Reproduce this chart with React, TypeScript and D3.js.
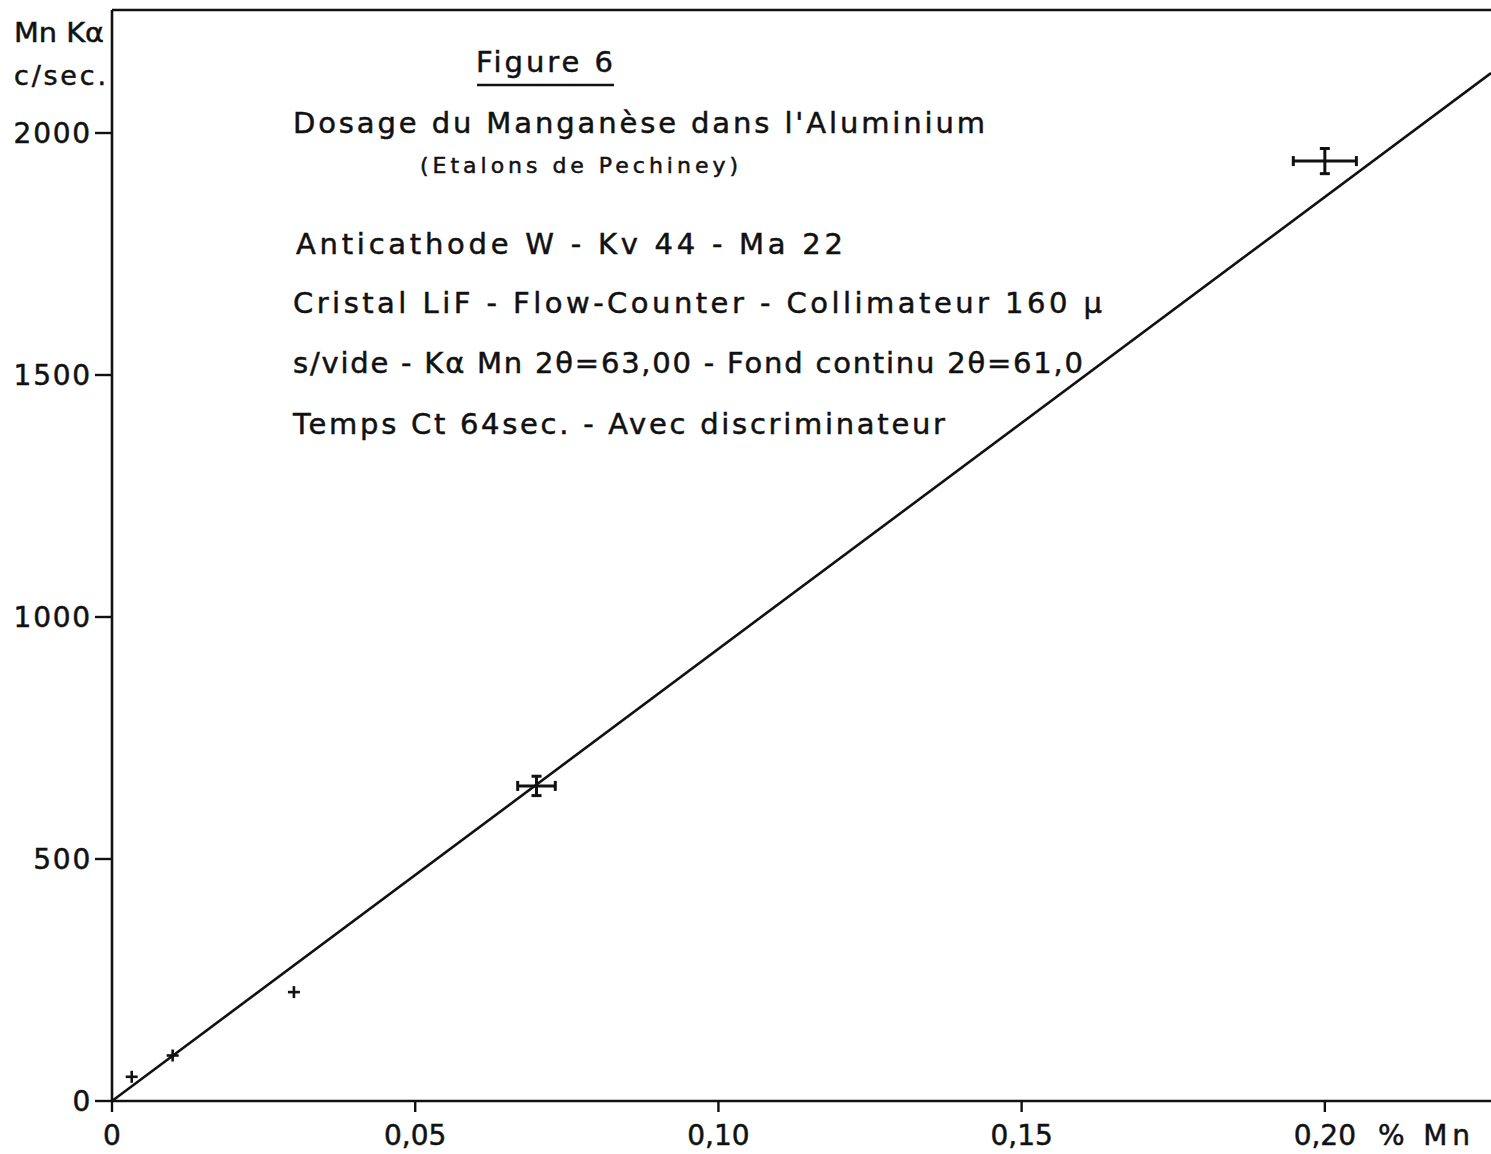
import React from "react";
import * as d3 from "d3";

// Calibration standards: Mn content (%) vs Mn Kα count rate (c/sec)
const mnPercent = [0.00325, 0.01, 0.03, 0.07, 0.2];
const countRate = [50, 94, 225, 651, 1942];
const errX = [0, 0, 0, 0.0031, 0.0052];
const errY = [0, 0, 0, 20, 26];

// Calibration line through the origin (c/sec per % Mn)
const fitSlope = 9340;

const xTicks = [0, 0.05, 0.1, 0.15, 0.2];
const xTickLabels = ["0", "0,05", "0,10", "0,15", "0,20"];
const yTicks = [0, 500, 1000, 1500, 2000];
const yTickLabels = ["0", "500", "1000", "1500", "2000"];

const W = 1491;
const H = 1154;
const FONT = "'DejaVu Sans', 'Liberation Sans', sans-serif";
const INK = "#111";

const x = d3.scaleLinear().domain([0, 0.2274]).range([112, 1491]);
const y = d3.scaleLinear().domain([0, 2000]).range([1101, 133]);

const infoLines = [
  { text: "Anticathode W -  Kv 44  -  Ma 22", x: 296, y: 254, w: 547 },
  { text: "Cristal LiF  -  Flow-Counter  -  Collimateur  160 µ", x: 293, y: 313, w: 809 },
  { text: "s/vide -  Kα Mn 2θ=63,00  - Fond  continu  2θ=61,0", x: 293, y: 373, w: 790 },
  { text: "Temps Ct 64sec.  -  Avec  discriminateur", x: 293, y: 434, w: 652 },
];

const textStyle = { fill: INK, stroke: INK, strokeWidth: 0.5 };

export default function App() {
  const line = d3
    .line<number>()
    .x((d) => x(d))
    .y((d) => y(fitSlope * d));
  const lineDomain = [0, x.domain()[1]];

  return (
    <svg
      width={W}
      height={H}
      style={{ position: "absolute", left: 0, top: 0, background: "#fff" }}
      fontFamily={FONT}
    >
      <rect x={0} y={0} width={W} height={H} fill="#ffffff" />

      {/* frame: left axis, bottom axis, top border */}
      <g stroke={INK} strokeWidth={2.6} fill="none">
        <line x1={x(0)} y1={10} x2={x(0)} y2={y(0) + 1} />
        <line x1={x(0)} y1={y(0)} x2={W} y2={y(0)} />
        <line x1={x(0)} y1={10} x2={W} y2={10} />
      </g>

      {/* y ticks */}
      {yTicks.map((t, i) => (
        <g key={"yt" + i}>
          <line x1={95} x2={x(0)} y1={y(t)} y2={y(t)} stroke={INK} strokeWidth={2.4} />
          <text
            x={92}
            y={y(t) + 10}
            textAnchor="end"
            fontSize={28}
            letterSpacing={1.8}
            {...textStyle}
          >
            {yTickLabels[i]}
          </text>
        </g>
      ))}

      {/* x ticks */}
      {xTicks.map((t, i) => (
        <g key={"xt" + i}>
          <line x1={x(t)} x2={x(t)} y1={y(0)} y2={y(0) + 11} stroke={INK} strokeWidth={2.4} />
          <text x={x(t)} y={1145} textAnchor="middle" fontSize={28} {...textStyle}>
            {xTickLabels[i]}
          </text>
        </g>
      ))}
      <text x={1378} y={1145} fontSize={28} textLength={92} lengthAdjust="spacing" {...textStyle}>
        % Mn
      </text>

      {/* y axis title */}
      <text x={14} y={42} fontSize={27} textLength={90} lengthAdjust="spacingAndGlyphs" {...textStyle}>
        Mn Kα
      </text>
      <text x={14} y={85} fontSize={27} textLength={92} lengthAdjust="spacing" {...textStyle}>
        c/sec.
      </text>

      {/* titles */}
      <text x={476} y={72} fontSize={29} textLength={137} lengthAdjust="spacing" {...textStyle}>
        Figure 6
      </text>
      <line x1={477} x2={614} y1={85} y2={85} stroke={INK} strokeWidth={2.4} />
      <text x={293} y={133} fontSize={29} textLength={692} lengthAdjust="spacing" {...textStyle}>
        Dosage du Manganèse dans l'Aluminium
      </text>
      <text x={420} y={173} fontSize={22} textLength={318} lengthAdjust="spacing" {...textStyle}>
        (Etalons de Pechiney)
      </text>
      {infoLines.map((l, i) => (
        <text
          key={"info" + i}
          x={l.x}
          y={l.y}
          fontSize={29}
          textLength={l.w}
          lengthAdjust="spacing"
          {...textStyle}
        >
          {l.text}
        </text>
      ))}

      {/* calibration line */}
      <path d={line(lineDomain) || ""} stroke={INK} strokeWidth={2.6} fill="none" />

      {/* measured points */}
      {mnPercent.map((m, i) => {
        const cx = x(m);
        const cy = y(countRate[i]);
        if (errX[i] === 0 && errY[i] === 0) {
          return (
            <g key={"p" + i} stroke={INK} strokeWidth={2.6}>
              <line x1={cx - 6} x2={cx + 6} y1={cy} y2={cy} />
              <line x1={cx} x2={cx} y1={cy - 6} y2={cy + 6} />
            </g>
          );
        }
        const x0 = x(m - errX[i]);
        const x1 = x(m + errX[i]);
        const y0 = y(countRate[i] + errY[i]);
        const y1 = y(countRate[i] - errY[i]);
        return (
          <g key={"p" + i} stroke={INK} strokeWidth={3}>
            <line x1={x0} x2={x1} y1={cy} y2={cy} />
            <line x1={x0} x2={x0} y1={cy - 5} y2={cy + 5} />
            <line x1={x1} x2={x1} y1={cy - 5} y2={cy + 5} />
            <line x1={cx} x2={cx} y1={y0} y2={y1} />
            <line x1={cx - 5} x2={cx + 5} y1={y0} y2={y0} />
            <line x1={cx - 5} x2={cx + 5} y1={y1} y2={y1} />
          </g>
        );
      })}
    </svg>
  );
}
